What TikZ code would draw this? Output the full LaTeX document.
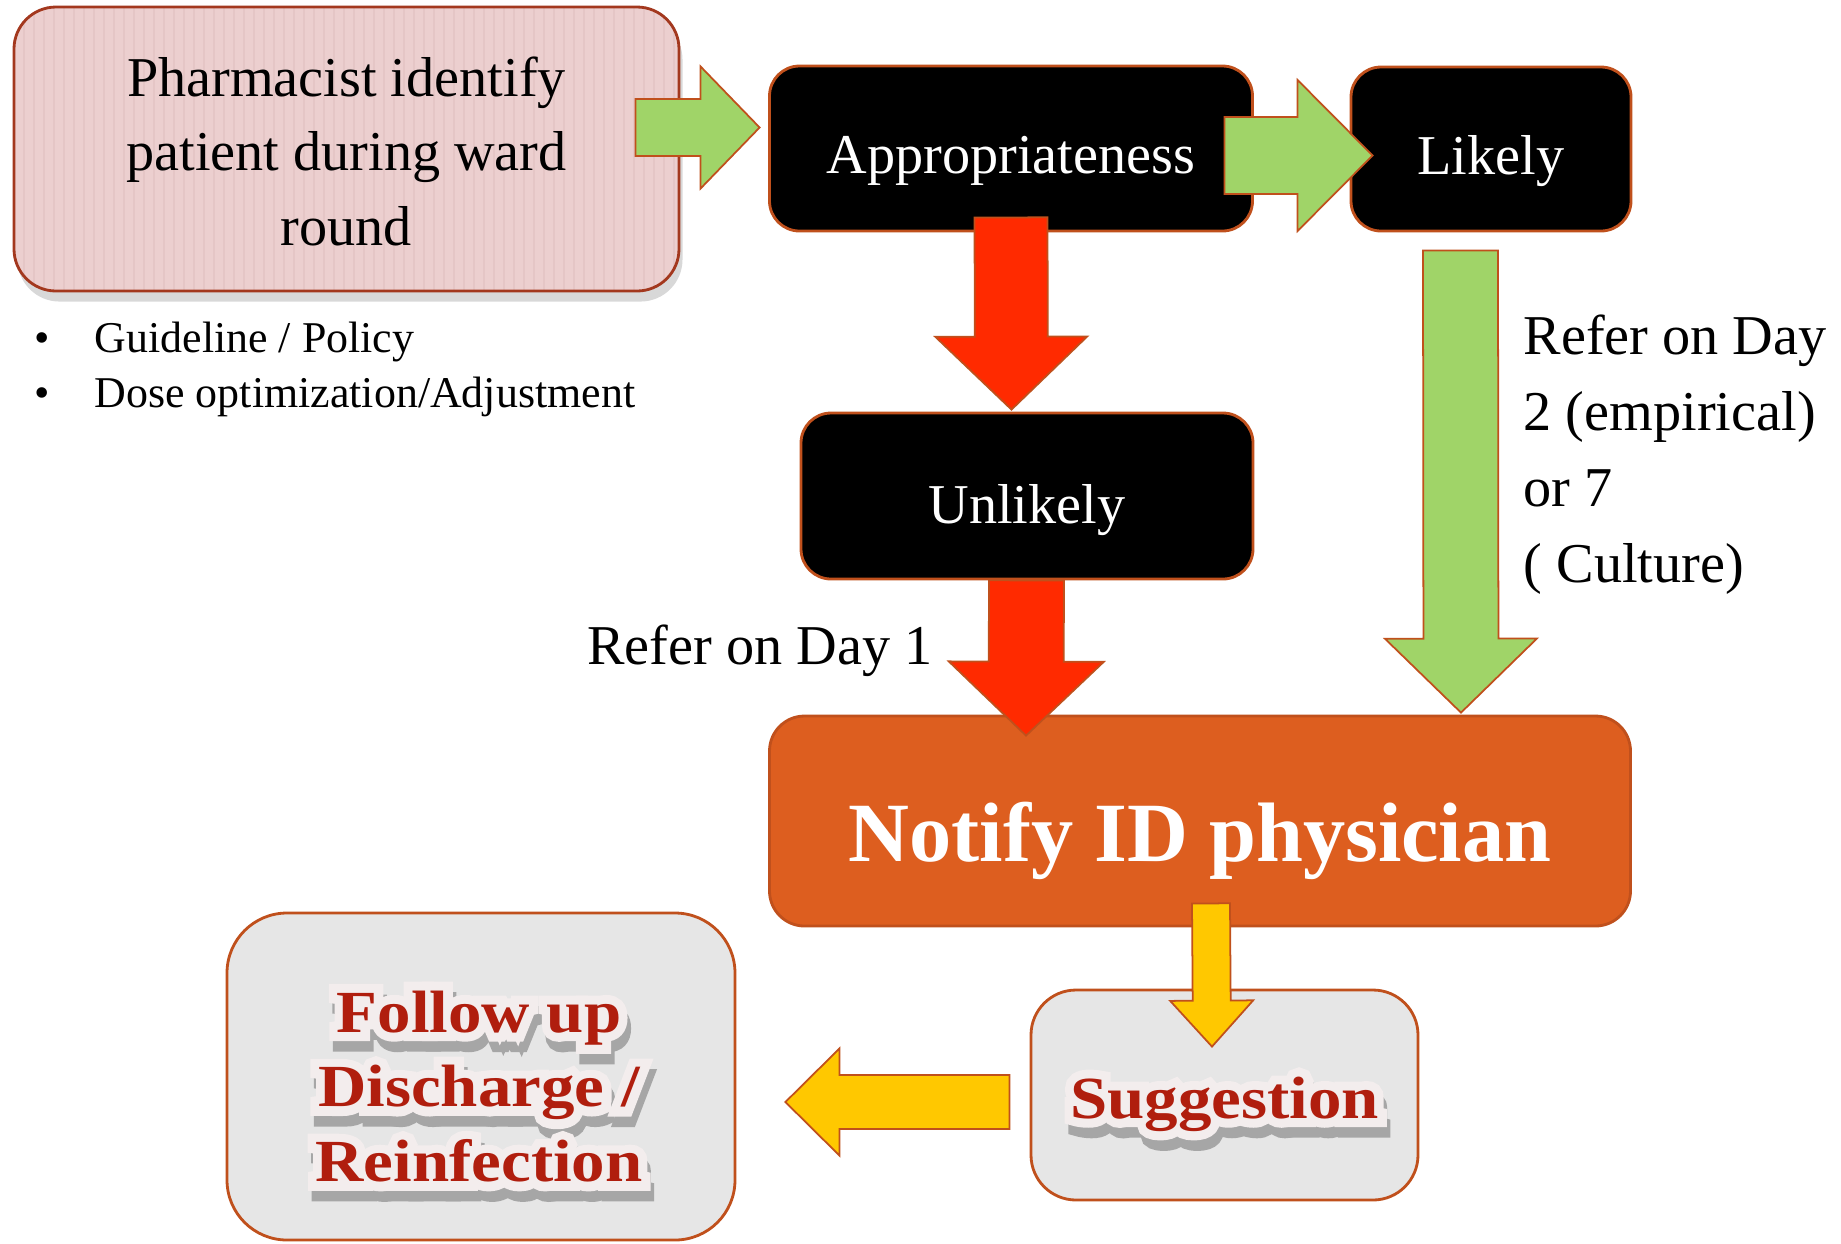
\documentclass[tikz,border=0pt]{standalone}
\usepackage{fontspec}
\setmainfont{Liberation Serif}
\newfontfamily\posterfont{Liberation Serif}[FakeStretch=1.12]
\newfontfamily\halofont{Liberation Serif Bold}[FakeStretch=1.12,FakeBold=30]
\usetikzlibrary{calc,shadows}
\definecolor{rust}{HTML}{C0501C}
\definecolor{brick}{HTML}{A3381E}
\definecolor{blush}{HTML}{ECCFCF}
\definecolor{blushline}{HTML}{E5C6C6}
\definecolor{leaf}{HTML}{A0D468}
\definecolor{alarm}{HTML}{FF2A00}
\definecolor{ember}{HTML}{DD5E1F}
\definecolor{amber}{HTML}{FFC800}
\definecolor{ash}{HTML}{E6E6E6}
\definecolor{crimson}{HTML}{B01E0E}
\definecolor{halo}{HTML}{F3EDED}
\newcommand\sink[2][.12cm]{\raisebox{-#1}[\height][\depth]{#2}}
\newcommand\blockarrow[6]{%
 \coordinate (neck) at ($(#3)!#6!(#2)$);
 \filldraw[#1]($(#2)!#4!90:(#3)$)--($(neck)!#4!90:(#3)$)--($(neck)!#5!90:(#3)$)--(#3)
  --($(neck)!#5!-90:(#3)$)--($(neck)!#4!-90:(#3)$)--($(#2)!#4!-90:(#3)$)--cycle;}

\begin{document}
\begin{tikzpicture}[x=1cm,y=-1cm,
 box/.style={draw=rust,line width=.8pt,rounded corners=.3cm,inner sep=0pt},
 dark/.style={box,fill=black,text=white,font=\fontsize{16}{20}\selectfont},
 pale/.style={box,fill=ash,rounded corners=.45cm},
 body/.style={font=\fontsize{16}{21.6}\selectfont,inner sep=0pt},
 flow/.style={draw=rust,line width=.5pt,line join=miter},
 greenflow/.style={flow,fill=leaf},
 redflow/.style={flow,fill=alarm},
 yellowflow/.style={flow,fill=amber},
 poster/.style={font=\posterfont\bfseries\fontsize{17}{21.3}\selectfont,align=center,inner sep=0pt},
 glow/.style={poster,font=\halofont\fontsize{17}{21.3}\selectfont}]
 \clip[use as bounding box](0,0)rectangle(18.41,12.43);
 \fill[white](0,0)rectangle(18.41,12.43);
 \node[box,draw=brick,fill=blush,rounded corners=.42cm,minimum width=6.65cm,minimum height=2.84cm,
  drop shadow={shadow xshift=1pt,shadow yshift=-3pt,opacity=.3},
  path picture={\foreach \i in {1,...,66}\draw[blushline,line width=.7pt]($(path picture bounding box.north west)+(\i/10,0)$)--++(0,3);},
  font=\fontsize{16}{21.1}\selectfont](pharm)at(3.465,1.49)
  {\sink[.07cm]{\begin{tabular}{@{}c@{}}Pharmacist identify\\patient during ward\\round\end{tabular}}};
 \node[body,anchor=base west,font=\fontsize{12.5}{15}\selectfont](guide)at(.34,3.52){\makebox[.6cm][l]{\textbullet}Guideline / Policy};
 \node[body,anchor=base west,font=\fontsize{12.5}{15}\selectfont](dose)at(.34,4.07){\makebox[.6cm][l]{\textbullet}Dose optimization/Adjustment};
 \node[dark,minimum width=4.83cm,minimum height=1.65cm](appr)at(10.11,1.485){\sink{Appropriateness}};
 \node[dark,minimum width=2.8cm,minimum height=1.64cm](likely)at(14.91,1.49){\sink{Likely}};
 \node[dark,minimum width=4.52cm,minimum height=1.66cm](unlik)at(10.27,4.96){\sink[.14cm]{Unlikely}};
 \node[box,fill=ember,text=white,rounded corners=.35cm,minimum width=8.61cm,minimum height=2.1cm,
  font=\bfseries\fontsize{24}{28}\selectfont](notify)at(12,8.21){\sink[.2cm]{Notify ID physician}};
 \node[pale,minimum width=3.87cm,minimum height=2.1cm](sugg)at(12.245,10.95){};
 \node[pale,rounded corners=.6cm,minimum width=5.08cm,minimum height=3.27cm](follow)at(4.81,10.765){};
 \node[body,anchor=base east](day1)at(9.33,6.64){Refer on Day 1};
 \node[body,anchor=north west,align=left](day27)at(15.23,3.14){Refer on Day\\2 (empirical)\\or 7\\( Culture)};

 \coordinate (g1a) at ($(pharm.east)+(-.45,-.215)$);
 \coordinate (g1b) at ($(appr.west)+(-.085,-.21)$);
 \coordinate (g2a) at ($(appr.east)+(-.295,.07)$);
 \coordinate (g2b) at ($(likely.west)+(.23,.065)$);
 \coordinate (r1a) at ($(appr.south)+(0,-.15)$);
 \coordinate (r1b) at ($(unlik.north)+(-.155,-.02)$);
 \coordinate (r2a) at ($(unlik.south)+(-.005,0)$);
 \coordinate (r2b) at ($(notify.north)+(-1.74,.21)$);
 \coordinate (g3a) at ($(likely.south)+(-.305,.18)$);
 \coordinate (g3b) at ($(notify.north)+(2.61,-.02)$);
 \coordinate (y1a) at ($(notify.south)+(.11,-.24)$);
 \coordinate (y1b) at ($(sugg.north)+(-.125,.58)$);
 \coordinate (y2a) at ($(sugg.west)+(-.2,.07)$);
 \coordinate (y2b) at ($(follow.east)+(.49,.255)$);
 \blockarrow{greenflow}{g1a}{g1b}{.285cm}{.61cm}{.59cm}
 \blockarrow{greenflow}{g2a}{g2b}{.385cm}{.755cm}{.75cm}
 \blockarrow{redflow}{r1a}{r1b}{.365cm}{.76cm}{.73cm}
 \blockarrow{redflow}{r2a}{r2b}{.375cm}{.775cm}{.74cm}
 \blockarrow{greenflow}{g3a}{g3b}{.375cm}{.76cm}{.74cm}
 \blockarrow{yellowflow}{y1a}{y1b}{.19cm}{.415cm}{.46cm}
 \blockarrow{yellowflow}{y2a}{y2b}{.27cm}{.535cm}{.54cm}

 \coordinate (suggmid) at ($(sugg)+(0,.09)$);
 \coordinate (followmid) at ($(follow)+(-.02,.1)$);
 \node[glow,text=black!35](suggshade)at($(suggmid)+(1pt,-3pt)$){Suggestion};
 \node[glow,text=black!35](followshade)at($(followmid)+(1pt,-3pt)$){Follow up\\Discharge /\\Reinfection};
 \node[glow,text=halo](sugghalo)at(suggmid){Suggestion};
 \node[glow,text=halo](followhalo)at(followmid){Follow up\\Discharge /\\Reinfection};
 \node[poster,text=crimson](suggword)at(suggmid){Suggestion};
 \node[poster,text=crimson](followword)at(followmid){Follow up\\Discharge /\\Reinfection};
\end{tikzpicture}
\end{document}
